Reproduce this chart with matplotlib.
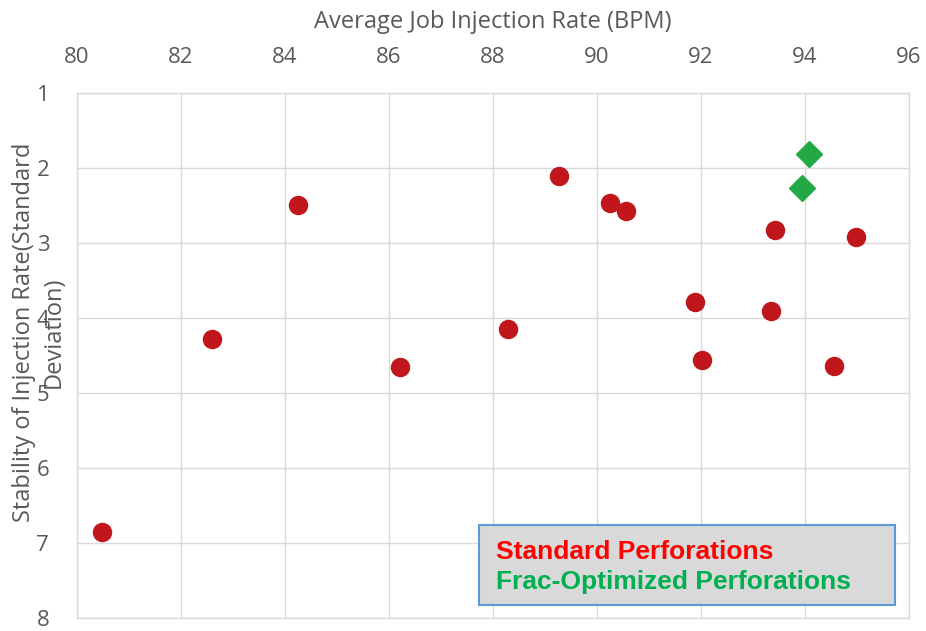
import matplotlib.pyplot as plt
from matplotlib.patches import Rectangle

# standard perforations
std_x = [84.25, 89.27, 90.25, 90.56, 93.42, 94.98, 91.88, 93.35, 88.29, 82.6, 86.21, 92.02, 94.56, 80.48]
std_y = [2.49, 2.11, 2.47, 2.57, 2.83, 2.92, 3.79, 3.91, 4.15, 4.28, 4.65, 4.56, 4.64, 6.85]

# frac-optimized perforations
opt_x = [94.08, 93.94]
opt_y = [1.81, 2.27]

x_ticks = [80, 82, 84, 86, 88, 90, 92, 94, 96]
y_ticks = [1, 2, 3, 4, 5, 6, 7, 8]

grey = '#595959'
plt.rcParams['font.family'] = ['Open Sans', 'DejaVu Sans']

fig = plt.figure(figsize=(9.26, 6.31), dpi=100)
ax = fig.add_axes([77/926, 1-618/631, (909-77)/926, (618-93)/631])

ax.plot(std_x, std_y, 'o', color='#C0161C', markersize=13, zorder=3)
ax.plot(opt_x, opt_y, 'D', color='#22A845', markersize=13, zorder=3)

ax.set_xlim(80, 96)
ax.set_ylim(8, 1)
ax.set_xticks(x_ticks)
ax.set_yticks(y_ticks)
ax.xaxis.tick_top()
ax.xaxis.set_label_position('top')
ax.tick_params(axis='x', length=0, labelsize=16, labelcolor=grey, pad=18)
ax.tick_params(axis='y', length=0, labelsize=16, labelcolor=grey, pad=20)
ax.grid(True, color='#D9D9D9', lw=1.0)
ax.set_axisbelow(True)
for s in ax.spines.values():
    s.set_color('#D9D9D9')
    s.set_linewidth(1.0)

xl = ax.set_xlabel('Average Job Injection Rate (BPM)', fontsize=17, color=grey)
ax.xaxis.set_label_coords(0.5, (618-22)/525)
xl.set_va('center')

yl = ax.set_ylabel('Stability of Injection Rate(Standard\nDeviation)', fontsize=17, color=grey,
                   linespacing=1.3)
ax.yaxis.set_label_coords((39-77)/832, (618-332)/525)
yl.set_va('center')

# legend box drawn as text
fig.patches.append(Rectangle((479/926, 1-605/631), (895-479)/926, (605-525)/631,
                             transform=fig.transFigure, facecolor='#D9D9D9',
                             edgecolor='#5B9BD5', lw=1.5, zorder=5))
fig.text(496/926, 1-559/631, 'Standard Perforations', color='#FF0000', fontsize=19,
         fontweight='bold', family='Liberation Sans', va='baseline', zorder=6)
fig.text(496/926, 1-589/631, 'Frac-Optimized Perforations', color='#00B050', fontsize=19,
         fontweight='bold', family='Liberation Sans', va='baseline', zorder=6)

plt.savefig('out.png')
